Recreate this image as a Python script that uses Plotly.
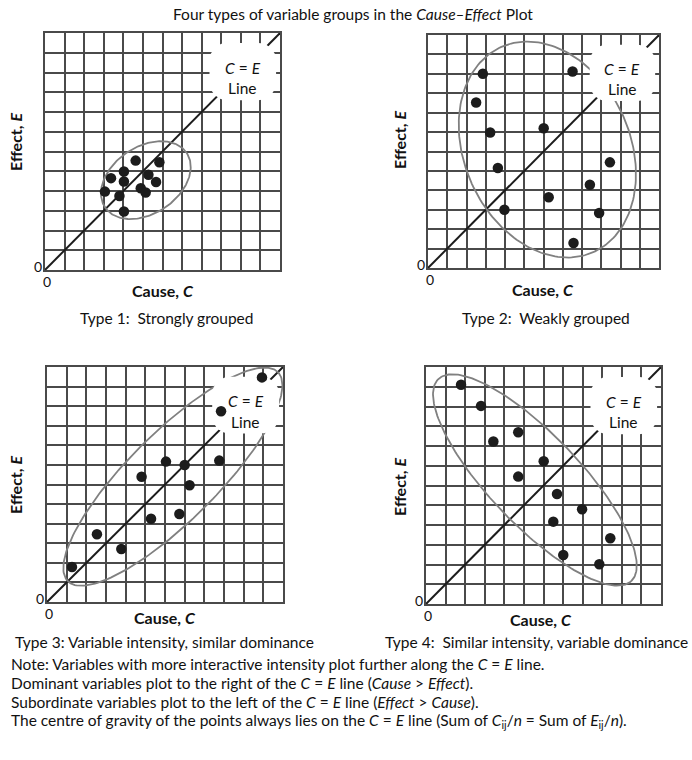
import numpy as np
import plotly.graph_objects as go

# ---------------- data ----------------
cause_1 = [4.63, 5.84, 4.03, 3.37, 4.03, 5.28, 5.67, 4.89, 5.14, 3.06, 3.80, 4.03]
effect_1 = [5.54, 5.46, 4.99, 4.65, 4.48, 4.82, 4.46, 4.14, 3.92, 3.97, 3.75, 2.96]

cause_2 = [2.85, 7.51, 2.50, 6.01, 3.23, 9.45, 3.63, 8.41, 6.27, 3.97, 8.89, 7.56]
effect_2 = [10.00, 10.12, 8.52, 7.20, 6.98, 5.44, 5.15, 4.29, 3.64, 3.00, 2.83, 1.29]

cause_3 = [10.93, 8.85, 8.76, 6.05, 7.00, 4.81, 7.25, 5.29, 6.73, 2.54, 3.78, 1.27]
effect_3 = [11.47, 9.74, 7.22, 7.17, 7.00, 6.40, 5.96, 4.25, 4.49, 3.46, 2.71, 1.79]

cause_4 = [1.79, 2.81, 3.44, 4.71, 6.01, 4.71, 6.69, 7.97, 6.50, 9.41, 7.01, 8.85]
effect_4 = [11.10, 10.03, 8.23, 8.70, 7.23, 6.45, 5.57, 4.80, 4.17, 3.33, 2.48, 2.01]

# grouping ellipses: centre C, centre E, semi-major, semi-minor, angle (deg)
ell_cx = [5.15, 6.20, 6.40, 5.56]
ell_cy = [4.55, 6.10, 6.40, 6.28]
ell_a = [2.50, 5.80, 7.55, 7.10]
ell_b = [1.70, 4.30, 2.25, 2.30]
ell_ang = [33, -65, 45, -46]

panel_titles = ["Type 1:  Strongly grouped", "Type 2:  Weakly grouped",
                "Type 3: Variable intensity, similar dominance",
                "Type 4:  Similar intensity, variable dominance"]
axis_max = 12

series = [(cause_1, effect_1), (cause_2, effect_2), (cause_3, effect_3), (cause_4, effect_4)]

# ---------------- layout geometry ----------------
W, H = 692, 760
panels_px = [  # left, right, top, bottom in pixels
    (45, 280, 33, 270),
    (428, 659, 35, 268),
    (47, 283, 367, 602),
    (426, 661, 367, 604),
]
ylab_px = [(15, 142), (399, 140), (15, 485), (399, 487)]
xlab_px = [(163, 290), (543, 289), (165, 617), (541, 619)]
sub_px = [(167, 318), (546, 318), (164, 642), (536, 642)]

FONT = "Lato"
DARK = "#1c1c1c"
GRID = "#4a4a4a"
TS = 15.5

fig = go.Figure()
annotations = []
layout_axes = {}

def px2x(p):
    return p / W

def px2y(p):
    return 1 - p / H

for i, ((cx, ey), (l, r, t, b)) in enumerate(zip(series, panels_px)):
    n = "" if i == 0 else str(i + 1)
    xa, ya = "x" + n, "y" + n
    layout_axes["xaxis" + n] = dict(
        domain=[px2x(l), px2x(r)], range=[0, axis_max], dtick=1, showgrid=True,
        gridcolor=GRID, gridwidth=1.6, showticklabels=False, zeroline=False,
        showline=True, linecolor=GRID, linewidth=1.6, mirror=True, anchor=ya,
        ticks="", fixedrange=True)
    layout_axes["yaxis" + n] = dict(
        domain=[px2y(b), px2y(t)], range=[0, axis_max], dtick=1, showgrid=True,
        gridcolor=GRID, gridwidth=1.6, showticklabels=False, zeroline=False,
        showline=True, linecolor=GRID, linewidth=1.6, mirror=True, anchor=xa,
        ticks="", fixedrange=True)

    # C = E line
    fig.add_trace(go.Scatter(x=[0, axis_max], y=[0, axis_max], mode="lines",
                             line=dict(color=DARK, width=2), xaxis=xa, yaxis=ya,
                             showlegend=False, hoverinfo="skip"))
    # ellipse
    tt = np.linspace(0, 2 * np.pi, 200)
    ang = np.deg2rad(ell_ang[i])
    ex = ell_cx[i] + ell_a[i] * np.cos(tt) * np.cos(ang) - ell_b[i] * np.sin(tt) * np.sin(ang)
    eyy = ell_cy[i] + ell_a[i] * np.cos(tt) * np.sin(ang) + ell_b[i] * np.sin(tt) * np.cos(ang)
    fig.add_trace(go.Scatter(x=ex, y=eyy, mode="lines", line=dict(color="#808080", width=1.8),
                             xaxis=xa, yaxis=ya, showlegend=False, hoverinfo="skip"))
    # white label box (rounded rectangle)
    x0, x1, y0, y1, rad = 8.4, 11.8, 8.6, 11.5, 0.9
    bx, by = [], []
    for (ccx, ccy, a0) in [(x1 - rad, y1 - rad, 0), (x0 + rad, y1 - rad, 90),
                           (x0 + rad, y0 + rad, 180), (x1 - rad, y0 + rad, 270)]:
        aa = np.deg2rad(np.linspace(a0, a0 + 90, 12))
        bx += list(ccx + rad * np.cos(aa))
        by += list(ccy + rad * np.sin(aa))
    fig.add_trace(go.Scatter(x=bx + [bx[0]], y=by + [by[0]], mode="lines", fill="toself",
                             fillcolor="white", line=dict(width=0, color="white"),
                             xaxis=xa, yaxis=ya, showlegend=False, hoverinfo="skip"))
    # points
    fig.add_trace(go.Scatter(x=cx, y=ey, mode="markers",
                             marker=dict(size=10.5, color=DARK), xaxis=xa, yaxis=ya,
                             showlegend=False))
    # box text
    annotations.append(dict(x=10.1, y=10.25, xref=xa, yref=ya, text="<i>C</i> = <i>E</i>",
                            showarrow=False, font=dict(size=TS, color="#111", family=FONT)))
    annotations.append(dict(x=10.1, y=9.2, xref=xa, yref=ya, text="Line",
                            showarrow=False, font=dict(size=TS, color="#111", family=FONT)))
    # zeros
    annotations.append(dict(x=0, y=0, xref=xa, yref=ya, text="0", showarrow=False,
                            xanchor="right", yanchor="middle", xshift=-1, yshift=4,
                            font=dict(size=14, color="#111", family=FONT)))
    annotations.append(dict(x=0, y=0, xref=xa, yref=ya, text="0", showarrow=False,
                            xanchor="center", yanchor="top", xshift=2, yshift=-1,
                            font=dict(size=14, color="#111", family=FONT)))
    # axis labels
    annotations.append(dict(x=px2x(ylab_px[i][0]), y=px2y(ylab_px[i][1]), xref="paper", yref="paper",
                            text="<b>Effect, <i>E</i></b>", textangle=-90, showarrow=False,
                            xanchor="center", yanchor="middle",
                            font=dict(size=16, color="#111", family=FONT)))
    annotations.append(dict(x=px2x(xlab_px[i][0]), y=px2y(xlab_px[i][1]), xref="paper", yref="paper",
                            text="<b>Cause, <i>C</i></b>", showarrow=False,
                            xanchor="center", yanchor="middle",
                            font=dict(size=16, color="#111", family=FONT)))
    annotations.append(dict(x=px2x(sub_px[i][0]), y=px2y(sub_px[i][1]), xref="paper", yref="paper",
                            text=panel_titles[i], showarrow=False,
                            xanchor="center", yanchor="middle",
                            font=dict(size=TS, color="#111", family=FONT)))

# title
annotations.append(dict(x=px2x(353), y=px2y(14), xref="paper", yref="paper",
                        text="Four types of variable groups in the <i>Cause–Effect</i> Plot",
                        showarrow=False, xanchor="center", yanchor="middle",
                        font=dict(size=TS, color="#111", family=FONT)))

notes = [
    "Note: Variables with more interactive intensity plot further along the <i>C</i> = <i>E</i> line.",
    "Dominant variables plot to the right of the <i>C</i> = <i>E</i> line (<i>Cause</i> > <i>Effect</i>).",
    "Subordinate variables plot to the left of the <i>C</i> = <i>E</i> line (<i>Effect</i> > <i>Cause</i>).",
    "The centre of gravity of the points always lies on the <i>C</i> = <i>E</i> line "
    "(Sum of <i>C</i><sub>ij</sub>/<i>n</i> = Sum of <i>E</i><sub>ij</sub>/<i>n</i>).",
]
note_y = [664, 683, 702, 721]
for txt, yy in zip(notes, note_y):
    annotations.append(dict(x=px2x(9), y=px2y(yy), xref="paper", yref="paper", text=txt,
                            showarrow=False, xanchor="left", yanchor="middle",
                            font=dict(size=TS, color="#111", family=FONT)))

fig.update_layout(
    width=W, height=H, margin=dict(l=0, r=0, t=0, b=0),
    paper_bgcolor="white", plot_bgcolor="white",
    annotations=annotations, showlegend=False, **layout_axes)

fig.write_html("out.html")
